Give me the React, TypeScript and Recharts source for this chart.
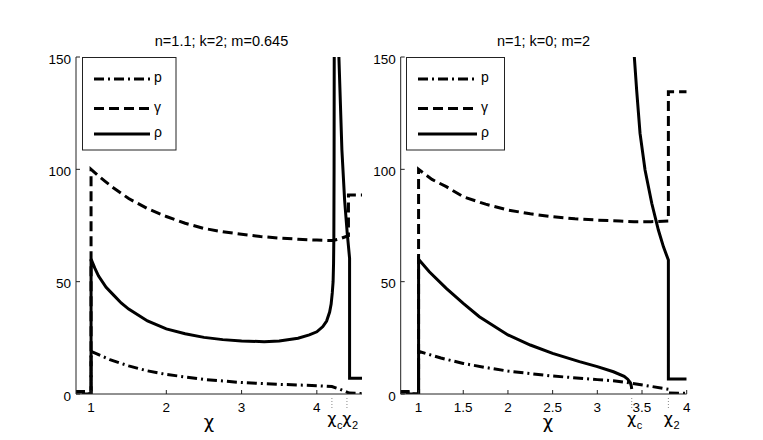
import { LineChart, Line, XAxis, YAxis } from 'recharts'

const FONT = '"Liberation Sans", Arial, Helvetica, sans-serif'
const GREEK = '"DejaVu Sans", sans-serif'
const INK = '#000'
const AXIS = '#222'

// left panel: n=1.1; k=2; m=0.645
const pLeft = [
  [0.8, 1], [0.9, 1], [0.9, 0], [1, 0], [1, 19], [1.1, 17.5], [1.25, 15.3], [1.5, 12.5],
  [1.75, 10.3], [2, 8.7], [2.5, 6.5], [3, 5.1], [3.5, 4.3], [4, 3.7], [4.2, 3.3],
  [4.3, 2.2], [4.38, 1.1], [4.43, 0.4], [4.6, 0.2],
]
const gammaLeft = [
  [0.8, 1], [0.9, 1], [0.9, 0], [1, 0], [1, 100], [1.1, 97], [1.2, 94.3], [1.3, 91.7],
  [1.5, 87], [1.75, 82.5], [2, 79], [2.25, 76], [2.5, 73.7], [2.75, 72.2], [3, 71.1],
  [3.25, 70.1], [3.5, 69.4], [3.75, 68.9], [4, 68.5], [4.21, 68.3], [4.3, 69],
  [4.42, 70.5], [4.42, 88.6], [4.6, 88.6],
]
const rhoLeft = [
  [0.8, 1], [0.9, 1], [0.9, 0], [1, 0], [1, 60], [1.05, 56], [1.1, 52.5], [1.2, 47.5],
  [1.3, 44], [1.4, 40.5], [1.5, 37.8], [1.75, 32.5], [2, 29], [2.25, 26.8], [2.5, 25.2],
  [2.75, 24.2], [3, 23.6], [3.3, 23.3], [3.5, 23.6], [3.75, 24.8], [3.9, 26.3], [4, 27.7],
  [4.08, 30], [4.13, 32.5], [4.17, 36.5], [4.19, 40], [4.205, 45], [4.216, 50],
  [4.222, 58], [4.226, 70], [4.229, 100], [4.231, 150], [4.232, 300], [4.27, 300],
  [4.293, 150], [4.333, 108.6], [4.369, 86.3], [4.404, 71.5], [4.435, 60.4],
  [4.435, 7], [4.6, 7],
]
const xTicksLeft = [1, 2, 3, 4]
const marksLeft = [{ value: 4.2, sub: 'c' }, { value: 4.4, sub: '2' }]

// right panel: n=1; k=0; m=2
const pRight = [
  [0.8, 1], [0.88, 1], [0.88, 0], [1, 0], [1, 19], [1.25, 16], [1.5, 13.6], [1.75, 11.8],
  [2, 10.2], [2.5, 8], [3, 6.4], [3.2, 5.8], [3.385, 4.8], [3.6, 3.4], [3.795, 2.1],
  [3.8, 0.4], [4, 0.3],
]
const gammaRight = [
  [0.8, 1], [0.88, 1], [0.88, 0], [1, 0], [1, 100], [1.15, 95.5], [1.31, 92.3],
  [1.5, 87.8], [1.75, 84.5], [2, 81.9], [2.25, 80.2], [2.5, 78.9], [2.75, 78],
  [3, 77.4], [3.25, 77], [3.41, 76.7], [3.6, 76.7], [3.795, 77], [3.795, 134.5],
  [4, 134.5],
]
const rhoRight = [
  [0.8, 1], [0.88, 1], [0.88, 0], [1, 0], [1, 60], [1.12, 54.4], [1.31, 47], [1.5, 40.3],
  [1.68, 34.4], [2, 26.3], [2.25, 21.8], [2.5, 18.1], [2.8, 14.4], [3, 12.2], [3.18, 9.9],
  [3.3, 7.9], [3.34, 6.6], [3.37, 5], [3.38, 3.5], [3.385, 2.2], [3.39, null],
  [3.405, 300], [3.414, 150], [3.44, 135.3], [3.478, 116], [3.534, 99.7], [3.609, 84.9],
  [3.683, 73], [3.74, 65.5], [3.795, 59.6], [3.795, 6.7], [4, 6.7],
]
const xTicksRight = [1, 1.5, 2, 2.5, 3, 3.5, 4]
const marksRight = [{ value: 3.385, sub: 'c' }, { value: 3.795, sub: '2' }]

const yTicks = [0, 50, 100, 150]

const DASH_DOT = '10 4 2 4'
const DASH = '10 5'
const LINE_W = 3

type Mark = { value: number; sub: string }

const toPts = (rows: (number | null)[][]) => rows.map(([x, y]) => ({ x, y }))

function BottomTick(props: any) {
  const { x, y, payload, marks } = props
  const mark = (marks as Mark[]).find((m) => Math.abs(m.value - payload.value) < 1e-6)
  if (mark) {
    return (
      <g>
        <line x1={x} x2={x} y1={y + 4} y2={y + 14} stroke="#888" strokeDasharray="1 2" />
        <text x={x} y={y + 30} textAnchor="middle" fontSize={16} fill={INK} fontFamily={GREEK}>
          χ
        </text>
        <text x={x + 5} y={y + 35} fontSize={11} fill={INK} fontFamily={FONT}>
          {mark.sub}
        </text>
      </g>
    )
  }
  return (
    <g>
      <line x1={x} x2={x} y1={y} y2={y - 4} stroke={AXIS} />
      <text x={x} y={y + 18} textAnchor="middle" fontSize={13.5} fill={INK} fontFamily={FONT}>
        {payload.value}
      </text>
    </g>
  )
}

function TopTick(props: any) {
  const { x, y } = props
  return <line x1={x} x2={x} y1={y} y2={y + 4} stroke={AXIS} />
}

function LeftTick(props: any) {
  const { x, y, payload } = props
  return (
    <g>
      <line x1={x} x2={x + 4} y1={y} y2={y} stroke={AXIS} />
      <text x={x - 5} y={y + 6.5} textAnchor="end" fontSize={13.5} fill={INK} fontFamily={FONT}>
        {payload.value}
      </text>
    </g>
  )
}

function RightTick(props: any) {
  const { x, y } = props
  return <line x1={x} x2={x - 4} y1={y} y2={y} stroke={AXIS} />
}

interface PanelProps {
  width: number
  left: number
  right: number
  domain: [number, number]
  ticks: number[]
  marks: Mark[]
  p: (number | null)[][]
  gamma: (number | null)[][]
  rho: (number | null)[][]
}

function Panel({ width, left, right, domain, ticks, marks, p, gamma, rho }: PanelProps) {
  const series = [
    { key: 'p', rows: p, dash: DASH_DOT },
    { key: 'gamma', rows: gamma, dash: DASH },
    { key: 'rho', rows: rho, dash: undefined },
  ]
  return (
    <LineChart width={width} height={440} margin={{ top: 57, right, bottom: 16, left: left - 20 }}>
      <XAxis
        xAxisId="b"
        dataKey="x"
        type="number"
        domain={domain}
        allowDataOverflow
        ticks={[...ticks, ...marks.map((m) => m.value)]}
        interval={0}
        height={30}
        tickSize={0}
        tickMargin={0}
        tickLine={false}
        stroke={AXIS}
        tick={(t: any) => <BottomTick {...t} marks={marks} />}
      />
      <XAxis
        xAxisId="t"
        orientation="top"
        dataKey="x"
        type="number"
        domain={domain}
        allowDataOverflow
        ticks={ticks}
        interval={0}
        height={0}
        tickSize={0}
        tickMargin={0}
        tickLine={false}
        stroke={AXIS}
        tick={TopTick}
      />
      <YAxis
        yAxisId="l"
        type="number"
        domain={[0, 150]}
        allowDataOverflow
        ticks={yTicks}
        interval={0}
        width={20}
        tickSize={0}
        tickMargin={0}
        tickLine={false}
        stroke={AXIS}
        tick={LeftTick}
      />
      <YAxis
        yAxisId="r"
        orientation="right"
        type="number"
        domain={[0, 150]}
        allowDataOverflow
        ticks={yTicks}
        interval={0}
        width={0}
        tickSize={0}
        tickMargin={0}
        tickLine={false}
        stroke={AXIS}
        tick={RightTick}
      />
      {series.map((s) => (
        <Line
          key={s.key}
          xAxisId="b"
          yAxisId="l"
          data={toPts(s.rows)}
          dataKey="y"
          type="linear"
          stroke={INK}
          strokeWidth={LINE_W}
          strokeDasharray={s.dash}
          dot={false}
          activeDot={false}
          connectNulls={false}
          isAnimationActive={false}
        />
      ))}
    </LineChart>
  )
}

function LegendBox({ x, w, lineFrom, lineTo }: { x: number; w: number; lineFrom: number; lineTo: number }) {
  const rows = [
    { label: 'p', y: 79, dash: DASH_DOT },
    { label: 'γ', y: 108.5, dash: DASH },
    { label: 'ρ', y: 134, dash: undefined },
  ]
  return (
    <g>
      <rect x={x} y={57.5} width={w} height={92.5} fill="#fff" stroke={AXIS} />
      {rows.map((r) => (
        <g key={r.label}>
          <line x1={lineFrom} x2={lineTo} y1={r.y} y2={r.y} stroke={INK} strokeWidth={LINE_W} strokeDasharray={r.dash} />
          <text x={lineTo + 4} y={r.y + 3} fontSize={14} fill={INK} fontFamily={FONT}>
            {r.label}
          </text>
        </g>
      ))}
    </g>
  )
}

export default function App() {
  return (
    <div style={{ position: 'fixed', left: 0, top: 0, width: 763, height: 440, background: '#fff', fontFamily: FONT }}>
      <div style={{ position: 'absolute', left: 0, top: 0 }}>
        <Panel width={372} left={76} right={10} domain={[0.8, 4.6]} ticks={xTicksLeft} marks={marksLeft}
          p={pLeft} gamma={gammaLeft} rho={rhoLeft} />
      </div>
      <div style={{ position: 'absolute', left: 372, top: 0 }}>
        <Panel width={391} left={28.7} right={76.3} domain={[0.8, 4]} ticks={xTicksRight} marks={marksRight}
          p={pRight} gamma={gammaRight} rho={rhoRight} />
      </div>
      <svg width={763} height={440} style={{ position: 'absolute', left: 0, top: 0, pointerEvents: 'none' }}>
        <text x={221.5} y={46} textAnchor="middle" fontSize={14.5} fill={INK} fontFamily={FONT}>
          n=1.1; k=2; m=0.645
        </text>
        <text x={543.5} y={46} textAnchor="middle" fontSize={14.5} fill={INK} fontFamily={FONT}>
          n=1; k=0; m=2
        </text>
        <text x={209} y={428} textAnchor="middle" fontSize={18} fill={INK} fontFamily={GREEK}>χ</text>
        <text x={548} y={428} textAnchor="middle" fontSize={18} fill={INK} fontFamily={GREEK}>χ</text>
        <LegendBox x={82.5} w={93.5} lineFrom={94} lineTo={150} />
        <LegendBox x={406.5} w={98} lineFrom={418} lineTo={477} />
      </svg>
    </div>
  )
}
